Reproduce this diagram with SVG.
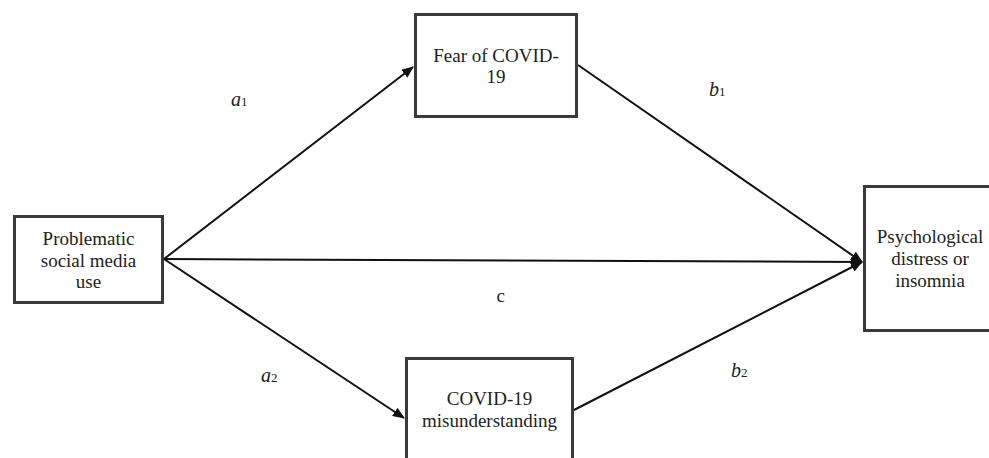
<svg xmlns="http://www.w3.org/2000/svg" width="989" height="458" viewBox="0 0 989 458">
<style>
.box{fill:#fff;stroke:#3a3a3a;stroke-width:3}
.t{font-family:"Liberation Serif","Times New Roman",serif;font-size:19px;fill:#222;text-anchor:middle}
.lab{font-family:"Liberation Serif","Times New Roman",serif;font-size:20px;fill:#222;font-style:italic}
.sub{font-family:"Liberation Serif","Times New Roman",serif;font-size:13px;fill:#222}
.c{font-family:"Liberation Serif","Times New Roman",serif;font-size:19px;fill:#222}
.ln{stroke:#111;stroke-width:2;fill:none;marker-end:url(#ah)}
</style>
<defs>
<marker id="ah" markerWidth="12" markerHeight="10" refX="11" refY="5" orient="auto" markerUnits="userSpaceOnUse">
<path d="M0,0 L12,5 L0,10 Z" fill="#111"/>
</marker>
</defs>
<rect width="989" height="458" fill="#fff"/>
<g id="connectors">
<line class="ln" x1="164" y1="259" x2="413" y2="67"/>
<line class="ln" x1="164" y1="259" x2="404" y2="418"/>
<line class="ln" x1="164" y1="259" x2="862" y2="262"/>
<line class="ln" x1="578" y1="65" x2="862" y2="262"/>
<line class="ln" x1="574" y1="410" x2="862" y2="262"/>
</g>
<g id="n-psmu">
<rect class="box" x="14.5" y="216.5" width="148" height="86"/>
<text class="t" x="88.5" y="245">Problematic</text>
<text class="t" x="88.5" y="267">social media</text>
<text class="t" x="88.5" y="288">use</text>
</g>
<g id="n-fear">
<rect class="box" x="415.5" y="14.5" width="161" height="102"/>
<text class="t" x="496" y="62">Fear of COVID-</text>
<text class="t" x="496" y="83">19</text>
</g>
<g id="n-mis">
<rect class="box" x="406.5" y="358.5" width="166" height="110"/>
<text class="t" x="489.5" y="405">COVID-19</text>
<text class="t" x="489.5" y="427">misunderstanding</text>
</g>
<g id="n-psy">
<rect class="box" x="864.5" y="186.5" width="140" height="144"/>
<text class="t" x="930" y="243">Psychological</text>
<text class="t" x="930" y="265">distress or</text>
<text class="t" x="930" y="287">insomnia</text>
</g>
<g id="labels">
<text class="lab" x="231" y="106">a</text><text class="sub" x="241" y="106">1</text>
<text class="lab" x="261" y="382">a</text><text class="sub" x="271" y="382">2</text>
<text class="lab" x="709" y="96">b</text><text class="sub" x="719" y="96">1</text>
<text class="lab" x="731" y="377">b</text><text class="sub" x="741" y="377">2</text>
<text class="c" x="496.5" y="302">c</text>
</g>
</svg>
